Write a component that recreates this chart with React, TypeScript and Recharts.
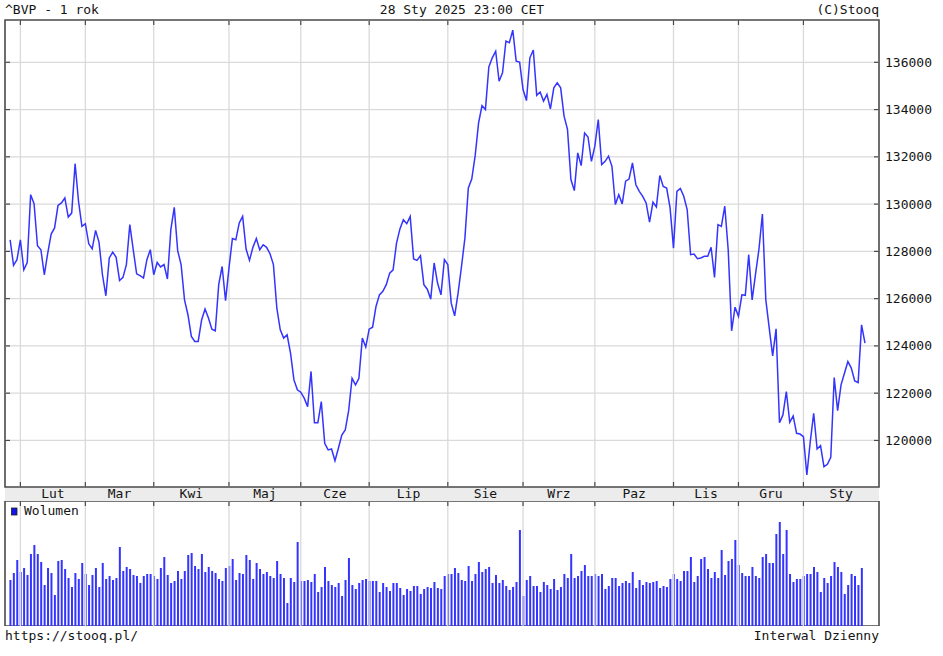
import React from "react";
import {
  ComposedChart,
  Line,
  Bar,
  XAxis,
  YAxis,
  ReferenceLine,
  ReferenceArea
} from "recharts";

// ^BVP daily closes, 29 Jan 2024 .. 28 Jan 2025
const closes = [
  128490, 127410, 127650, 128490, 127220, 127530, 130400, 130020, 128240, 128070,
  127010, 127930, 128730, 128990, 129940, 130050, 130260, 129450, 129620, 131710,
  130120, 129060, 129170, 128320, 128110, 128890, 128380, 127010, 126120, 127720,
  127970, 127750, 126770, 126900, 127440, 129130, 128070, 127050, 126970, 126870,
  127650, 128070, 127010, 127530, 127340, 127440, 126830, 128920, 129860, 128030,
  127440, 125950, 125320, 124400, 124190, 124190, 125100, 125560, 125180, 124710,
  124640, 126590, 127360, 125910, 127290, 128540, 128490, 129200, 129480, 128100,
  127620, 128170, 128540, 128070, 128280, 128170, 127900, 127440, 125600, 124680,
  124330, 124470, 123690, 122560, 122140, 122040, 121790, 121430, 122920, 120750,
  120750, 121640, 119880, 119600, 119640, 119140, 119670, 120230, 120440, 121260,
  122630, 122350, 122630, 124330, 123950, 124710, 124790, 125670, 126160, 126310,
  126590, 127080, 127220, 128350, 128950, 129340, 129170, 129480, 127680, 127620,
  127820, 126590, 126400, 125980, 127510, 126660, 126160, 127650, 127440, 125810,
  125270, 126230, 127360, 128560, 130680, 131060, 132050, 133440, 134170, 134000,
  135800, 136190, 136470, 135200, 135560, 136900, 136830, 137360, 136050, 136010,
  134850, 134380, 136190, 136520, 134600, 134740, 134360, 134640, 134030, 134920,
  135130, 134920, 133720, 133160, 131040, 130570, 132170, 131630, 133010, 132840,
  131810, 132450, 133580, 131670, 131810, 132030, 131600, 129980, 130400, 130010,
  130970, 131060, 131740, 130820, 130540, 130330, 130050, 129240, 130080, 129880,
  131210, 130750, 130680, 129840, 128140, 130540, 130660, 130330, 129770, 127860,
  127890, 127690, 127720, 127790, 127790, 128170, 126900, 129130, 129060, 129910,
  128070, 124640, 125640, 125250, 126160, 126140, 127860, 125950, 127050, 128100,
  129580, 125950, 124750, 123580, 124720, 120750, 121080, 122070, 120770, 121040,
  120300, 120270, 120160, 118540, 119950, 121150, 119640, 119780, 118890, 118990,
  119290, 122660, 121260, 122350, 122840, 123340, 123060, 122520, 122450, 124890,
  124120
];

// volume, relative units (no scale shown); last session has no bar yet
const volumes = [
  46, 53, 66, 54, 58, 51, 72, 81, 72, 64,
  41, 58, 53, 31, 65, 66, 57, 48, 39, 53,
  47, 63, 52, 41, 51, 58, 39, 63, 47, 50,
  46, 48, 79, 55, 59, 57, 51, 50, 43, 50,
  52, 52, 50, 47, 58, 69, 51, 43, 45, 55,
  47, 55, 71, 73, 60, 57, 72, 54, 59, 55,
  53, 47, 45, 58, 60, 67, 46, 53, 52, 71,
  66, 47, 63, 57, 52, 54, 50, 48, 65, 52,
  48, 23, 48, 44, 84, 45, 45, 46, 44, 52,
  34, 39, 59, 45, 41, 39, 43, 30, 46, 68,
  41, 37, 43, 46, 47, 45, 45, 45, 34, 43,
  39, 35, 43, 43, 38, 31, 37, 35, 40, 40,
  32, 37, 39, 38, 44, 38, 37, 50, 52, 52,
  58, 53, 46, 45, 60, 45, 52, 64, 54, 57,
  59, 43, 51, 43, 46, 40, 36, 39, 44, 96,
  30, 46, 50, 40, 40, 34, 44, 41, 37, 47,
  36, 39, 52, 48, 72, 48, 50, 55, 61, 50,
  50, 52, 50, 52, 37, 40, 48, 48, 40, 43,
  45, 43, 54, 38, 46, 41, 44, 43, 44, 45,
  38, 40, 39, 47, 52, 47, 45, 55, 55, 69,
  44, 50, 67, 69, 57, 48, 54, 48, 76, 51,
  65, 67, 86, 61, 53, 50, 50, 59, 50, 48,
  69, 72, 63, 63, 92, 104, 72, 96, 52, 44,
  47, 47, 50, 52, 52, 59, 54, 34, 48, 43,
  50, 64, 59, 54, 32, 41, 52, 50, 41, 58
];

// first session of each month (index into closes) and its label
const monthStarts = [3, 22, 42, 64, 85, 105, 128, 150, 171, 194, 213, 232];
const monthLabels = ["Lut", "Mar", "Kwi", "Maj", "Cze", "Lip", "Sie", "Wrz", "Paz", "Lis", "Gru", "Sty"];
const priceTicks = [120000, 122000, 124000, 126000, 128000, 130000, 132000, 134000, 136000];

const xDomain: [number, number] = [-1.5, 254.1];
const priceDomain: [number, number] = [118030, 137790];
const volDomain: [number, number] = [0, 125];

const priceData = closes.map((c, i) => ({ i, close: c }));
const volData = closes.map((_, i) => ({ i, vol: i < volumes.length ? volumes[i] : null }));
const monthMids = monthStarts.map((s, k) =>
  (s + (k + 1 < monthStarts.length ? monthStarts[k + 1] : xDomain[1])) / 2
);

const FONT = '"DejaVu Sans Mono", monospace';
const GRID = "#dadada";
const FRAME = "#4a4a4a";
const TEXT = "#141414";
const BLUE = "#3434ff";

const vGrid = (topTick: boolean, bottomTick: boolean) => (p: any) => {
  const top = Math.min(p.y1, p.y2);
  const bot = Math.max(p.y1, p.y2);
  return (
    <g>
      <line x1={p.x1} x2={p.x1} y1={top} y2={bot} stroke={GRID} strokeWidth={1.3} />
      {topTick && <line x1={p.x1} x2={p.x1} y1={top} y2={top + 5} stroke={FRAME} strokeWidth={1.2} />}
      {bottomTick && <line x1={p.x1} x2={p.x1} y1={bot - 5} y2={bot} stroke={FRAME} strokeWidth={1.2} />}
    </g>
  );
};

const hGrid = (p: any) => {
  const l = Math.min(p.x1, p.x2);
  const r = Math.max(p.x1, p.x2);
  return (
    <g>
      <line x1={l} x2={r} y1={p.y1} y2={p.y1} stroke={GRID} strokeWidth={1.3} />
      <line x1={l} x2={l + 5} y1={p.y1} y2={p.y1} stroke={FRAME} strokeWidth={1.2} />
      <line x1={r - 5} x2={r} y1={p.y1} y2={p.y1} stroke={FRAME} strokeWidth={1.2} />
    </g>
  );
};

const MonthTick = (props: any) => {
  const { x, y, payload } = props;
  const k = monthMids.indexOf(payload.value);
  return (
    <text x={x} y={y + 11} textAnchor="middle" fontFamily={FONT} fontSize={13} fill={TEXT}>
      {monthLabels[k]}
    </text>
  );
};

const PriceTick = (props: any) => {
  const { x, y, payload } = props;
  return (
    <text x={x} y={y + 4.5} textAnchor="start" fontFamily={FONT} fontSize={13} fill={TEXT}>
      {payload.value}
    </text>
  );
};

export default function App() {
  const txt = { fontFamily: FONT, fontSize: 13, fill: TEXT };
  return (
    <div style={{ position: "absolute", left: 0, top: 0, width: 943, height: 656, background: "#fff" }}>
      <svg width={943} height={656} style={{ position: "absolute", left: 0, top: 0 }}>
        <rect x={5} y={487} width={874} height={14} fill="#ececec" />
        <text x={5} y={14} {...txt}>^BVP - 1 rok</text>
        <text x={462} y={14} textAnchor="middle" {...txt}>28 Sty 2025 23:00 CET</text>
        <text x={879} y={14} textAnchor="end" {...txt}>(C)Stooq</text>
        <rect x={11.5} y={508} width={5.5} height={7} fill="#1414e6" stroke="#202020" strokeWidth={0.8} />
        <text x={24} y={515} {...txt}>Wolumen</text>
        <text x={5} y={640} {...txt}>https://stooq.pl/</text>
        <text x={879} y={640} textAnchor="end" {...txt}>Interwal Dzienny</text>
      </svg>

      <div style={{ position: "absolute", left: 0, top: 0 }}>
        <ComposedChart width={943} height={501} data={priceData} margin={{ top: 20, right: 0, bottom: 0, left: 5 }}>
          <XAxis
            dataKey="i"
            type="number"
            domain={xDomain}
            allowDataOverflow
            ticks={monthMids}
            interval={0}
            tick={<MonthTick />}
            tickLine={false}
            axisLine={false}
            tickSize={0}
            tickMargin={0}
            height={14}
          />
          <YAxis
            orientation="right"
            type="number"
            domain={priceDomain}
            allowDataOverflow
            ticks={priceTicks}
            interval={0}
            tick={<PriceTick />}
            tickLine={false}
            axisLine={false}
            tickSize={0}
            tickMargin={6}
            width={64}
          />
          {monthStarts.map((m) => (
            <ReferenceLine key={"vm" + m} x={m} shape={vGrid(true, true)} />
          ))}
          {priceTicks.map((t) => (
            <ReferenceLine key={"hp" + t} y={t} shape={hGrid} />
          ))}
          <ReferenceArea
            x1={xDomain[0]}
            x2={xDomain[1]}
            y1={priceDomain[0]}
            y2={priceDomain[1]}
            ifOverflow="visible"
            fill="none"
            stroke={FRAME}
            strokeWidth={1.6}
          />
          <Line
            type="linear"
            dataKey="close"
            stroke={BLUE}
            strokeWidth={1.5}
            dot={false}
            isAnimationActive={false}
          />
        </ComposedChart>
      </div>

      <div style={{ position: "absolute", left: 0, top: 501 }}>
        <ComposedChart width={943} height={125} data={volData} margin={{ top: 0, right: 64, bottom: 0, left: 5 }}>
          <XAxis dataKey="i" type="number" domain={xDomain} allowDataOverflow hide />
          <YAxis type="number" domain={volDomain} allowDataOverflow hide />
          {monthStarts.map((m) => (
            <ReferenceLine key={"vv" + m} x={m} shape={vGrid(true, false)} />
          ))}
          <ReferenceArea
            x1={xDomain[0]}
            x2={xDomain[1]}
            y1={volDomain[0]}
            y2={volDomain[1]}
            ifOverflow="visible"
            fill="none"
            stroke={FRAME}
            strokeWidth={1.6}
          />
          <Bar dataKey="vol" fill={BLUE} barSize={2} isAnimationActive={false} />
        </ComposedChart>
      </div>
    </div>
  );
}
